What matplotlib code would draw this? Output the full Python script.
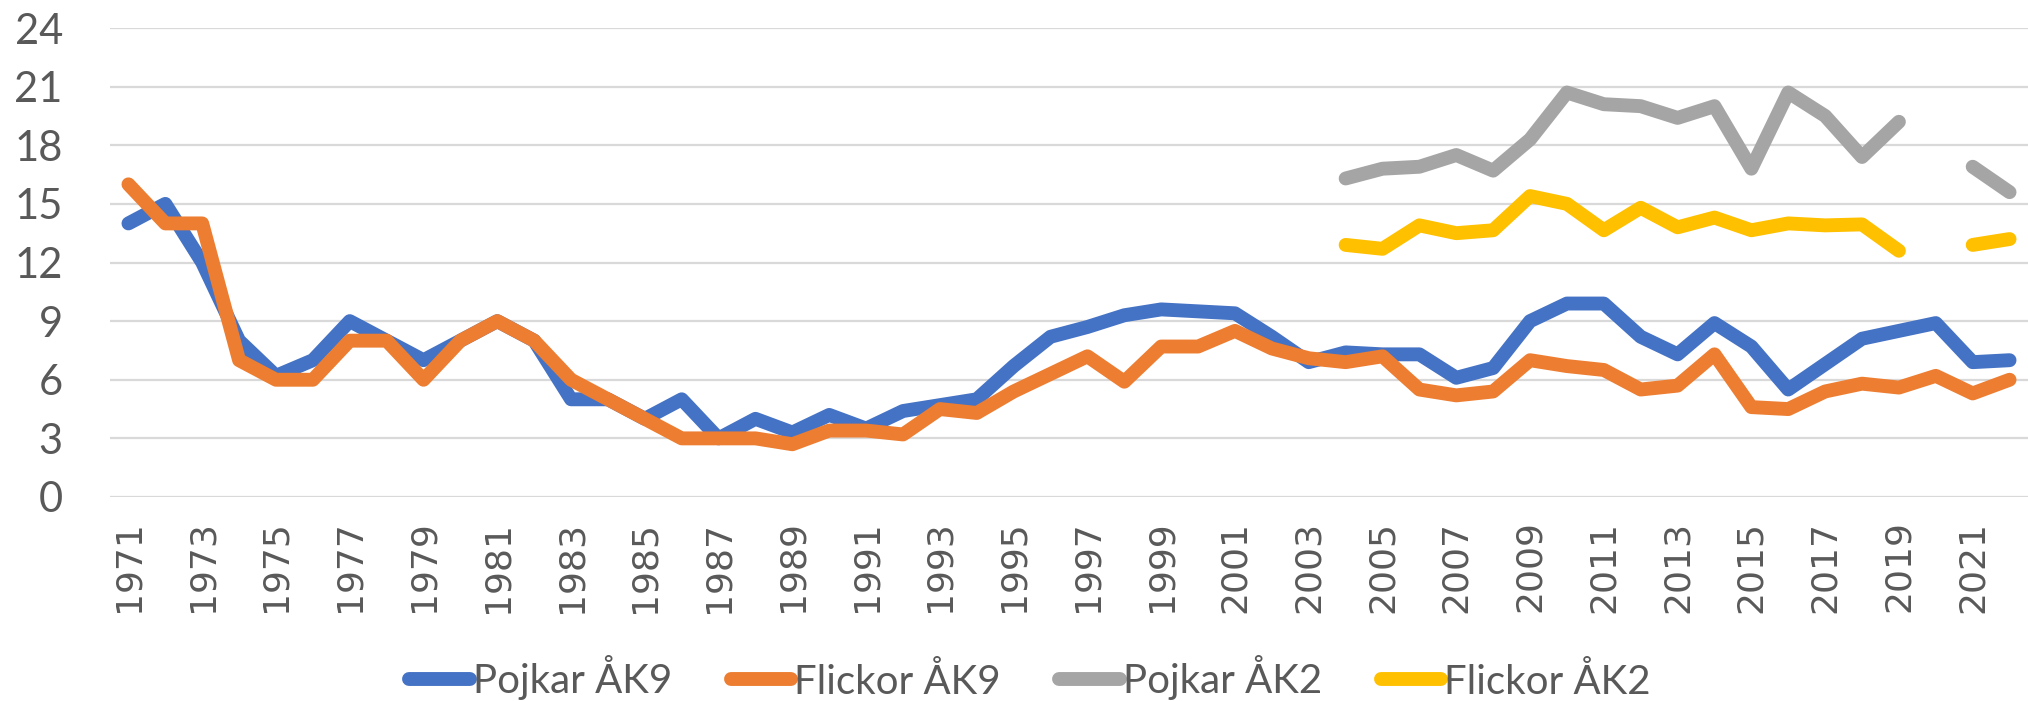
import numpy as np
import matplotlib
matplotlib.use('Agg')
import matplotlib.pyplot as plt

# years on the category axis
years = np.arange(1971, 2023)

pojkar_ak9 = [14, 15, 12, 8, 6.2, 7, 9, 8, 7, 8, 9, 8, 5, 5, 4, 5,
              3, 4, 3.3, 4.2, 3.5, 4.4, 4.7, 5.0, 6.7, 8.2, 8.7, 9.3, 9.6, 9.5,
              9.4, 8.2, 6.9, 7.4, 7.3, 7.3, 6.1, 6.6, 9.0, 9.9, 9.9, 8.2,
              7.3, 8.9, 7.7, 5.5, 6.8, 8.1, 8.5, 8.9, 6.9, 7.0]
flickor_ak9 = [16, 14, 14, 7, 6, 6, 8, 8, 6, 8, 9, 8, 6, 5, 4, 3,
               3, 3, 2.7, 3.4, 3.4, 3.2, 4.5, 4.3, 5.4, 6.3, 7.2, 5.9, 7.7, 7.7,
               8.5, 7.6, 7.1, 6.9, 7.2, 5.5, 5.2, 5.4, 7.0, 6.7, 6.5, 5.5,
               5.7, 7.3, 4.6, 4.5, 5.4, 5.8, 5.6, 6.2, 5.3, 6.0]
nan = np.nan
pojkar_ak2 = [nan] * 33 + [16.3, 16.8, 16.9, 17.5, 16.7, 18.3, 20.7, 20.1, 20.0,
                           19.4, 20.0, 16.8, 20.7, 19.5, 17.4, 19.2, nan, 16.9, 15.6]
flickor_ak2 = [nan] * 33 + [12.9, 12.7, 13.9, 13.5, 13.65, 15.4, 15.0, 13.65, 14.8,
                            13.8, 14.3, 13.65, 14.0, 13.9, 13.95, 12.6, nan, 12.9, 13.2]

labels = ['Pojkar ÅK9', 'Flickor ÅK9', 'Pojkar ÅK2', 'Flickor ÅK2']
colors = ['#4472C4', '#ED7D31', '#A5A5A5', '#FFC000']

fig = plt.figure(figsize=(20.28, 7.01), dpi=100)
ax = fig.add_axes([110/2028, 1 - 497/701, 1 - 110/2028, (497 - 28)/701])

for vals, lab, col in zip([pojkar_ak9, flickor_ak9, pojkar_ak2, flickor_ak2], labels, colors):
    ax.plot(years, vals, color=col, lw=10, label=lab,
            solid_capstyle='round', solid_joinstyle='round')

ax.set_xlim(1970.5, 2022.5)
ax.set_ylim(0, 24)
ax.set_yticks(np.arange(0, 25, 3))
ax.set_xticks(np.arange(1971, 2022, 2))
ax.set_xticklabels([str(y) for y in range(1971, 2022, 2)], rotation=90,
                   family='DejaVu Sans', fontsize=26, color='#595959')
ax.set_yticklabels([str(v) for v in range(0, 25, 3)],
                   family='Lato', fontsize=30, color='#595959')
ax.tick_params(axis='both', length=0)
ax.tick_params(axis='y', pad=34)
ax.tick_params(axis='x', pad=17)
ax.grid(axis='y', color='#D9D9D9', lw=1.6)
ax.set_axisbelow(True)
for s in ax.spines.values():
    s.set_visible(False)

fig.legend(loc='center', bbox_to_anchor=(1030/2028, 1 - 678/701), ncol=4,
           frameon=False, handlelength=1.5, handletextpad=0.07, columnspacing=1.46,
           prop={'family': 'Lato', 'size': 29}, labelcolor='#595959')

fig.savefig('out.png', dpi=100)
